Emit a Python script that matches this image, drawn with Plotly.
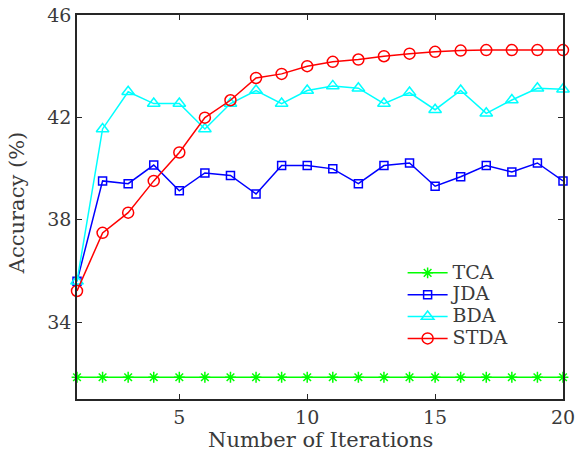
import plotly.graph_objects as go

iterations = list(range(1, 21))
tca = [31.85] * 20
jda = [35.6, 39.52, 39.41, 40.14, 39.13, 39.83, 39.73, 39.01, 40.12, 40.12,
       39.99, 39.41, 40.12, 40.22, 39.31, 39.68, 40.12, 39.87, 40.22, 39.52]
bda = [35.6, 41.55, 43.0, 42.54, 42.54, 41.55, 42.54, 43.05, 42.54, 43.05,
       43.23, 43.14, 42.54, 42.97, 42.3, 43.05, 42.16, 42.68, 43.14, 43.1]
stda = [35.22, 37.49, 38.28, 39.52, 40.63, 41.99, 42.67, 43.54, 43.7, 44.0,
        44.17, 44.26, 44.39, 44.49, 44.56, 44.61, 44.63, 44.63, 44.63, 44.63]
x_ticks = [5, 10, 15, 20]
y_ticks = [34, 38, 42, 46]

FONT = "DejaVu Serif"
TXT = "#3a3a3a"
fig = go.Figure()
series = [
    ("TCA", tca, "#00ff00", "asterisk-open", 9),
    ("JDA", jda, "#0000ff", "square-open", 8),
    ("BDA", bda, "#00ffff", "triangle-up-open", 11),
    ("STDA", stda, "#ff0000", "circle-open", 11),
]
for name, vals, col, sym, sz in series:
    fig.add_trace(go.Scatter(
        x=iterations, y=vals, name='<span style="font-size:19px">' + name + '</span>',
        mode="lines+markers",
        line=dict(color=col, width=1.5),
        marker=dict(symbol=sym, size=sz, color=col, line=dict(color=col, width=1.5)),
        cliponaxis=False,
    ))

axis_common = dict(
    showgrid=False, zeroline=False, showline=True, linecolor="#262626", linewidth=1.5,
    mirror="ticks", ticks="inside", ticklen=5, tickwidth=1, tickcolor="#262626",
    tickfont=dict(family=FONT, size=19, color=TXT), automargin=False,
    ticklabeloverflow="allow",
)
fig.update_xaxes(range=[1, 20], tickvals=x_ticks, **axis_common)
fig.update_yaxes(range=[31, 46], tickvals=y_ticks, **axis_common)
fig.add_annotation(text="Number of Iterations", xref="paper", yref="paper",
                   x=0.5, y=-0.107, xanchor="center", yanchor="middle", showarrow=False,
                   font=dict(family=FONT, size=21, color=TXT))
fig.add_annotation(text="Accuracy (%)", xref="paper", yref="paper", textangle=-90,
                   x=-0.1235, y=0.51, xanchor="center", yanchor="middle", showarrow=False,
                   font=dict(family=FONT, size=21, color=TXT))
fig.update_layout(
    width=578, height=459,
    margin=dict(l=77, r=15, t=15, b=60),
    plot_bgcolor="white", paper_bgcolor="white",
    legend=dict(x=0.67, y=0.37, xanchor="left", yanchor="top",
                font=dict(family=FONT, size=14.5, color=TXT),
                bgcolor="rgba(0,0,0,0)", tracegroupgap=0, itemwidth=40),
)
fig.write_html("out.html", config={"displayModeBar": False},
               post_script="document.body.style.margin='0px';")
